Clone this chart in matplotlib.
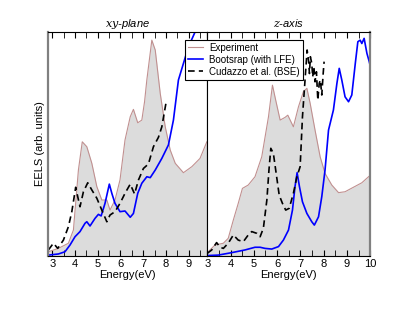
"""EELS: xy-plane vs z-axis, experiment / bootstrap / BSE."""
import matplotlib
matplotlib.use("Agg")
import matplotlib.pyplot as plt
from matplotlib.ticker import MultipleLocator

plt.rcParams["font.family"] = ["Liberation Sans", "DejaVu Sans"]
plt.rcParams["mathtext.fontset"] = "dejavuserif"

# ---- xy-plane ----
xy_exp_e = [2.83, 3.27, 3.71, 3.93, 4.15, 4.32, 4.52, 4.74, 4.96, 5.18, 5.40, 5.54, 5.76, 5.98,
            6.20, 6.43, 6.57, 6.76, 6.94, 7.06, 7.16, 7.38, 7.53, 7.75, 7.97, 8.19, 8.41, 8.77,
            9.14, 9.50, 9.80]
xy_exp_y = [0.019, 0.034, 0.057, 0.116, 0.384, 0.51, 0.488, 0.414, 0.31, 0.25, 0.25, 0.205, 0.25,
            0.34, 0.518, 0.622, 0.655, 0.595, 0.607, 0.689, 0.786, 0.964, 0.92, 0.726, 0.577,
            0.473, 0.414, 0.372, 0.399, 0.436, 0.51]

xy_bs_e = [2.83, 3.27, 3.56, 3.78, 4.0, 4.22, 4.44, 4.52, 4.66, 4.88, 5.03, 5.15, 5.32, 5.51, 5.62,
           5.76, 5.98, 6.20, 6.43, 6.57, 6.76, 6.94, 7.16, 7.31, 7.53, 7.82, 8.11, 8.33, 8.55,
           8.77, 8.99, 9.28, 9.6]
xy_bs_y = [0.004, 0.009, 0.019, 0.049, 0.086, 0.109, 0.146, 0.153, 0.134, 0.168, 0.186, 0.179,
           0.235, 0.321, 0.28, 0.235, 0.198, 0.201, 0.173, 0.19, 0.28, 0.325, 0.354, 0.35, 0.384,
           0.436, 0.496, 0.607, 0.786, 0.86, 0.934, 1.0, 1.1]

xy_bse_e = [2.83, 3.05, 3.24, 3.49, 3.71, 3.86, 4.03, 4.12, 4.22, 4.37, 4.56, 4.74, 4.96, 5.18,
            5.40, 5.54, 5.76, 5.98, 6.20, 6.43, 6.62, 6.79, 7.01, 7.23, 7.45, 7.67, 7.82, 8.0]
xy_bse_y = [0.027, 0.057, 0.034, 0.071, 0.131, 0.198, 0.307, 0.265, 0.22, 0.287, 0.327, 0.295,
            0.258, 0.205, 0.153, 0.183, 0.198, 0.235, 0.28, 0.321, 0.277, 0.339, 0.391, 0.411,
            0.488, 0.53, 0.577, 0.682]

# ---- z-axis ----
z_exp_e = [3.0, 3.33, 3.69, 3.90, 4.12, 4.33, 4.51, 4.76, 5.05, 5.34, 5.63, 5.80, 5.94, 6.13,
           6.34, 6.46, 6.70, 6.92, 7.13, 7.28, 7.42, 7.63, 7.85, 8.06, 8.35, 8.64, 8.92, 9.28,
           9.64, 9.93, 10.0]
z_exp_y = [0.015, 0.049, 0.057, 0.079, 0.161, 0.235, 0.302, 0.317, 0.354, 0.443, 0.622, 0.763,
           0.696, 0.607, 0.619, 0.629, 0.577, 0.667, 0.734, 0.749, 0.682, 0.5625, 0.443, 0.369,
           0.317, 0.283, 0.287, 0.307, 0.327, 0.354, 0.36]

z_bs_e = [3.0, 3.47, 4.05, 4.62, 5.05, 5.27, 5.48, 5.77, 6.06, 6.27, 6.49, 6.66, 6.77, 6.86, 6.96,
          7.09, 7.28, 7.49, 7.60, 7.78, 7.92, 8.06, 8.21, 8.42, 8.57, 8.67, 8.78, 8.92, 9.07,
          9.21, 9.36, 9.47, 9.57, 9.64, 9.74, 9.86, 9.96, 10.0]
z_bs_y = [0.002, 0.004, 0.015, 0.027, 0.039, 0.039, 0.034, 0.031, 0.042, 0.071, 0.116, 0.205,
          0.31, 0.372, 0.31, 0.242, 0.19, 0.153, 0.138, 0.175, 0.265, 0.384, 0.5625, 0.652,
          0.771, 0.838, 0.786, 0.711, 0.689, 0.719, 0.86, 0.957, 0.964, 0.949, 0.972, 0.905,
          0.868, 0.85]

z_bse_e = [3.0, 3.19, 3.40, 3.55, 3.69, 3.90, 4.12, 4.33, 4.55, 4.76, 4.91, 5.13, 5.27, 5.41,
           5.56, 5.65, 5.73, 5.84, 5.96, 6.09, 6.23, 6.37, 6.52, 6.70, 6.85, 6.99, 7.09, 7.17,
           7.23, 7.29, 7.35, 7.39, 7.43, 7.49, 7.53, 7.58, 7.63, 7.69, 7.75, 7.81, 7.86, 7.92,
           7.98, 8.02]
z_bse_y = [0.012, 0.027, 0.06, 0.039, 0.034, 0.057, 0.094, 0.071, 0.064, 0.094, 0.109, 0.101,
           0.086, 0.124, 0.25, 0.384, 0.481, 0.458, 0.369, 0.272, 0.235, 0.205, 0.213, 0.28,
           0.354, 0.399, 0.622, 0.741, 0.83, 0.92, 0.875, 0.815, 0.89, 0.86, 0.80, 0.845,
           0.778, 0.823, 0.696, 0.771, 0.786, 0.719, 0.815, 0.868]

EXP_EDGE = "#c09090"
FILL = "#dcdcdc"


def panel(ax, exp_e, exp_y, bs_e, bs_y, bse_e, bse_y):
    ax.fill_between(exp_e, 0, exp_y, color=FILL, lw=0)
    ax.plot(exp_e, exp_y, color=EXP_EDGE, lw=0.8, label="Experiment")
    ax.plot(bs_e, bs_y, color="blue", lw=1.2, label="Bootsrap (with LFE)")
    ax.plot(bse_e, bse_y, color="black", lw=1.2, ls=(0, (4, 2.5)), label="Cudazzo et al. (BSE)")
    ax.set_ylim(0, 1.0)
    ax.set_yticks([])
    ax.xaxis.set_major_locator(MultipleLocator(1))
    ax.xaxis.set_minor_locator(MultipleLocator(0.5))
    ax.tick_params(axis="x", which="both", direction="in", top=True, labelsize=8, pad=2)
    ax.tick_params(axis="x", which="both", length=4)
    ax.set_xlabel("Energy(eV)", fontsize=8, labelpad=1)


fig = plt.figure(figsize=(4.15, 3.21), dpi=100)
ax1 = fig.add_axes([0.115, 0.2025, 0.3845, 0.6975])
ax2 = fig.add_axes([0.4995, 0.2025, 0.3925, 0.6975])

panel(ax1, xy_exp_e, xy_exp_y, xy_bs_e, xy_bs_y, xy_bse_e, xy_bse_y)
panel(ax2, z_exp_e, z_exp_y, z_bs_e, z_bs_y, z_bse_e, z_bse_y)
ax1.set_xlim(2.8, 9.82)
ax2.set_xlim(3, 10)

ax1.spines["left"].set_color("gray")
ax1.spines["left"].set_linewidth(1.6)
ax2.spines["right"].set_color("gray")
ax2.spines["right"].set_linewidth(1.6)

ax1.set_title(r"$xy$-plane", fontsize=8, style="italic", pad=4)
ax2.set_title(r"$z$-axis", fontsize=8, style="italic", pad=4)
ax1.set_ylabel("EELS (arb. units)", fontsize=8, labelpad=2)

handles, labels = ax1.get_legend_handles_labels()
leg = fig.legend(handles, labels, loc="upper left", bbox_to_anchor=(0.445, 0.876),
                 fontsize=7, frameon=True, fancybox=False, framealpha=1, edgecolor="black",
                 handlelength=1.6, handletextpad=0.6, borderpad=0.3, labelspacing=0.2,
                 borderaxespad=0)
leg.get_frame().set_linewidth(0.8)

fig.savefig("out.png", dpi=100)
